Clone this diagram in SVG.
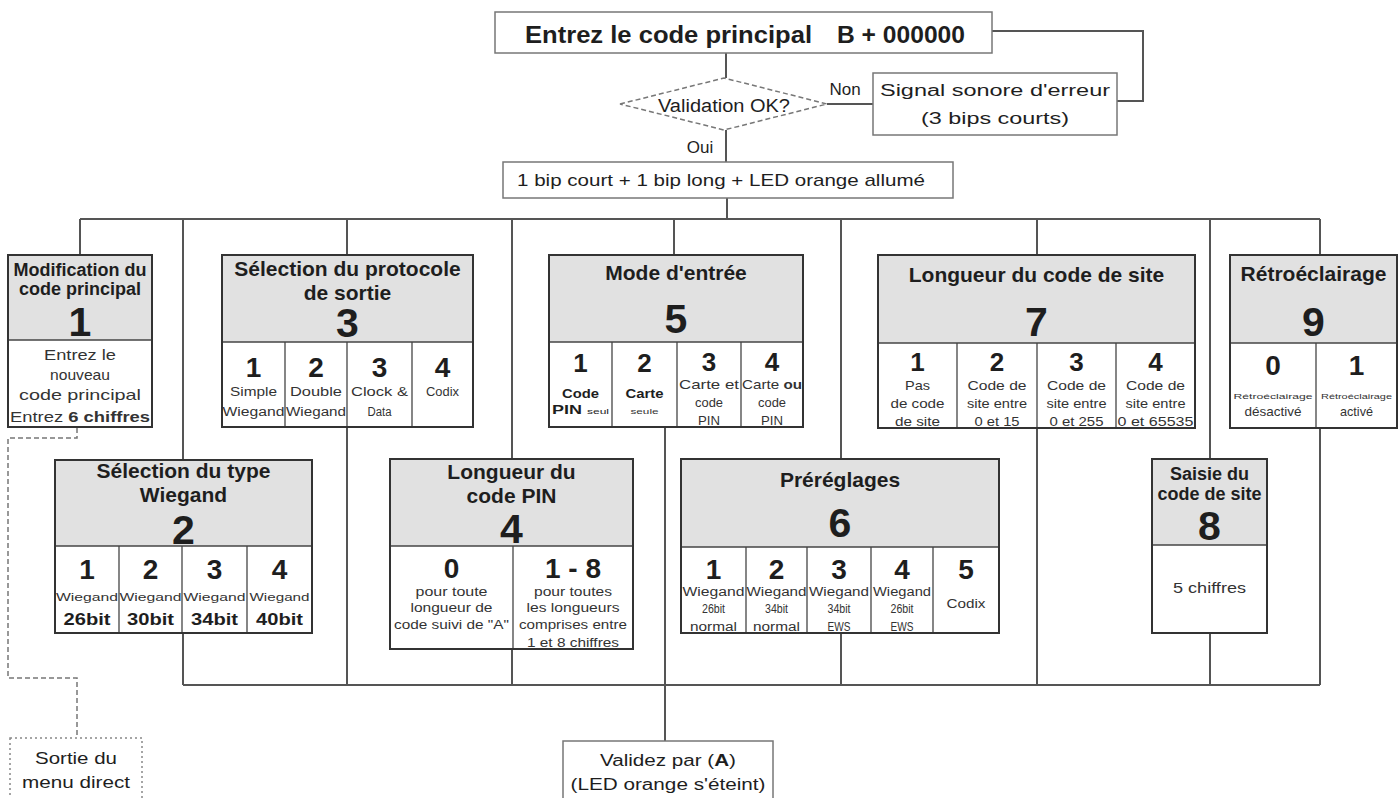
<svg xmlns="http://www.w3.org/2000/svg" width="1400" height="798" viewBox="0 0 1400 798">
<style>
text{font-family:"Liberation Sans",Arial,Helvetica,sans-serif;fill:#1e1e1e;text-anchor:middle}
.b{font-weight:bold}
.st{text-anchor:start}
.h21{font-size:21px;font-weight:bold}
.h18{font-size:18px;font-weight:bold}
.big{font-size:41px;font-weight:bold}
.dg{font-size:28px;font-weight:bold}
.dg2{font-size:26px;font-weight:bold}
.sm{fill:#333}
.body{fill:#fff}
.hdr{fill:#e1e1e1}
.frame{fill:none;stroke:#333;stroke-width:2}
.sep{stroke:#444;stroke-width:1.3}
.ln{fill:none;stroke:#555;stroke-width:2}
.thin{fill:#fff;stroke:#777;stroke-width:1.5}
.dash{fill:none;stroke:#777;stroke-width:1.5;stroke-dasharray:5 3}
.dot{fill:#fff;stroke:#888;stroke-width:1.5;stroke-dasharray:2 3}
</style>

<g id="connectors">
  <polyline class="ln" points="992,31 1143,31 1143,101 1117,101"/>
  <line class="ln" x1="726" y1="53" x2="726" y2="78"/>
  <line class="ln" x1="827" y1="104" x2="873" y2="104"/>
  <line class="ln" x1="726" y1="130" x2="726" y2="162"/>
  <line class="ln" x1="727" y1="198" x2="727" y2="219"/>
  <line class="ln" x1="80" y1="219" x2="1320" y2="219"/>
  <line class="ln" x1="80" y1="219" x2="80" y2="255"/>
  <line class="ln" x1="183" y1="219" x2="183" y2="685"/>
  <line class="ln" x1="347" y1="219" x2="347" y2="685"/>
  <line class="ln" x1="512" y1="219" x2="512" y2="685"/>
  <line class="ln" x1="674" y1="219" x2="674" y2="255"/>
  <line class="ln" x1="841" y1="219" x2="841" y2="685"/>
  <line class="ln" x1="1037" y1="219" x2="1037" y2="685"/>
  <line class="ln" x1="1210" y1="219" x2="1210" y2="685"/>
  <line class="ln" x1="1320" y1="219" x2="1320" y2="685"/>
  <line class="ln" x1="183" y1="685" x2="1320" y2="685"/>
  <line class="ln" x1="665" y1="427" x2="665" y2="741"/>
  <path class="dash" d="M77,428 V438 H8 V678 H77 V738"/>
</g>

<g id="start">
  <rect class="thin" x="495" y="12" width="497" height="41"/>
  <text class="b st" x="525" y="43" font-size="24" textLength="287" lengthAdjust="spacingAndGlyphs">Entrez le code principal</text>
  <text class="b st" x="837" y="43" font-size="24" textLength="128" lengthAdjust="spacingAndGlyphs">B + 000000</text>
</g>

<g id="decision">
  <polygon points="620,104 724,78 827,104 724,130" fill="#fff" stroke="#777" stroke-width="1.5" stroke-dasharray="5 3"/>
  <text x="724" y="112" font-size="18" textLength="132" lengthAdjust="spacingAndGlyphs">Validation OK?</text>
  <text x="845" y="95" font-size="17">Non</text>
  <text x="700" y="153" font-size="17">Oui</text>
</g>

<g id="error">
  <rect class="thin" x="873" y="73" width="244" height="62"/>
  <text x="995" y="96" font-size="16" textLength="230" lengthAdjust="spacingAndGlyphs">Signal sonore d'erreur</text>
  <text x="995" y="124" font-size="16" textLength="148" lengthAdjust="spacingAndGlyphs">(3 bips courts)</text>
</g>

<g id="ok">
  <rect class="thin" x="503" y="162" width="450" height="36"/>
  <text x="721" y="186" font-size="17" textLength="408" lengthAdjust="spacingAndGlyphs">1 bip court + 1 bip long + LED orange allumé</text>
</g>

<g id="node1">
  <rect class="body" x="8" y="255" width="144" height="172"/>
  <rect class="hdr" x="8" y="255" width="144" height="85"/>
  <line class="sep" x1="8" y1="340" x2="152" y2="340"/>
  <text class="h18" x="80" y="276" font-size="17.5">Modification du</text>
  <text class="h18" x="80" y="295" font-size="17.5">code principal</text>
  <text class="big" x="80" y="336">1</text>
  <text class="sm" x="80" y="360" font-size="15" textLength="72" lengthAdjust="spacingAndGlyphs">Entrez le</text>
  <text class="sm" x="80" y="380" font-size="15" textLength="60" lengthAdjust="spacingAndGlyphs">nouveau</text>
  <text class="sm" x="80" y="400" font-size="15" textLength="122" lengthAdjust="spacingAndGlyphs">code principal</text>
  <text class="sm" x="80" y="422" font-size="15" textLength="140" lengthAdjust="spacingAndGlyphs">Entrez <tspan class="b">6 chiffres</tspan></text>
  <rect class="frame" x="8" y="255" width="144" height="172"/>
</g>

<g id="node3">
  <rect class="body" x="222" y="255" width="251" height="172"/>
  <rect class="hdr" x="222" y="255" width="251" height="87"/>
  <line class="sep" x1="222" y1="342" x2="473" y2="342"/>
  <line class="sep" x1="285" y1="342" x2="285" y2="427"/>
  <line class="sep" x1="347" y1="342" x2="347" y2="427"/>
  <line class="sep" x1="412" y1="342" x2="412" y2="427"/>
  <text class="h21" x="347.5" y="276">Sélection du protocole</text>
  <text class="h21" x="347.5" y="300">de sortie</text>
  <text class="big" x="347.5" y="337">3</text>
  <text class="dg" x="253.5" y="377">1</text>
  <text class="dg" x="316" y="377">2</text>
  <text class="dg" x="379.5" y="377">3</text>
  <text class="dg" x="442.5" y="377">4</text>
  <text class="sm" x="253.5" y="396" font-size="12" textLength="47" lengthAdjust="spacingAndGlyphs">Simple</text>
  <text class="sm" x="253.5" y="416" font-size="12" textLength="62" lengthAdjust="spacingAndGlyphs">Wiegand</text>
  <text class="sm" x="316" y="396" font-size="12" textLength="52" lengthAdjust="spacingAndGlyphs">Double</text>
  <text class="sm" x="316" y="416" font-size="12" textLength="60" lengthAdjust="spacingAndGlyphs">Wiegand</text>
  <text class="sm" x="379.5" y="396" font-size="12" textLength="57" lengthAdjust="spacingAndGlyphs">Clock &amp;</text>
  <text class="sm" x="379.5" y="416" font-size="12" textLength="24" lengthAdjust="spacingAndGlyphs">Data</text>
  <text class="sm" x="442.5" y="396" font-size="12" textLength="33" lengthAdjust="spacingAndGlyphs">Codix</text>
  <rect class="frame" x="222" y="255" width="251" height="172"/>
</g>

<g id="node5">
  <rect class="body" x="549" y="255" width="254" height="172"/>
  <rect class="hdr" x="549" y="255" width="254" height="87"/>
  <line class="sep" x1="549" y1="342" x2="803" y2="342"/>
  <line class="sep" x1="612" y1="342" x2="612" y2="427"/>
  <line class="sep" x1="677" y1="342" x2="677" y2="427"/>
  <line class="sep" x1="741" y1="342" x2="741" y2="427"/>
  <text class="h21" x="676" y="280">Mode d'entrée</text>
  <text class="big" x="676" y="333">5</text>
  <text class="dg2" x="580.5" y="372">1</text>
  <text class="dg2" x="644.5" y="372">2</text>
  <text class="dg2" x="709" y="371">3</text>
  <text class="dg2" x="772" y="371">4</text>
  <text class="b" x="580.5" y="398" font-size="12" textLength="37" lengthAdjust="spacingAndGlyphs">Code</text>
  <text x="580.5" y="414" font-size="12" textLength="57" lengthAdjust="spacingAndGlyphs"><tspan class="b">PIN</tspan> <tspan font-size="8">seul</tspan></text>
  <text class="b" x="644.5" y="398" font-size="12" textLength="38" lengthAdjust="spacingAndGlyphs">Carte</text>
  <text class="sm" x="644.5" y="414" font-size="8" textLength="28" lengthAdjust="spacingAndGlyphs">seule</text>
  <text class="sm" x="709" y="389" font-size="13" textLength="60" lengthAdjust="spacingAndGlyphs">Carte et</text>
  <text class="sm" x="709" y="407" font-size="13" textLength="28" lengthAdjust="spacingAndGlyphs">code</text>
  <text class="sm" x="709" y="425" font-size="13" textLength="22" lengthAdjust="spacingAndGlyphs">PIN</text>
  <text class="sm" x="772" y="389" font-size="13" textLength="60" lengthAdjust="spacingAndGlyphs">Carte <tspan class="b">ou</tspan></text>
  <text class="sm" x="772" y="407" font-size="13" textLength="28" lengthAdjust="spacingAndGlyphs">code</text>
  <text class="sm" x="772" y="425" font-size="13" textLength="22" lengthAdjust="spacingAndGlyphs">PIN</text>
  <rect class="frame" x="549" y="255" width="254" height="172"/>
</g>

<g id="node7">
  <rect class="body" x="878" y="255" width="317" height="173"/>
  <rect class="hdr" x="878" y="255" width="317" height="88"/>
  <line class="sep" x1="878" y1="343" x2="1195" y2="343"/>
  <line class="sep" x1="957" y1="343" x2="957" y2="428"/>
  <line class="sep" x1="1037" y1="343" x2="1037" y2="428"/>
  <line class="sep" x1="1116" y1="343" x2="1116" y2="428"/>
  <text class="h21" x="1036.5" y="282">Longueur du code de site</text>
  <text class="big" x="1036.5" y="336">7</text>
  <text class="dg2" x="917.5" y="371">1</text>
  <text class="dg2" x="997" y="371">2</text>
  <text class="dg2" x="1076.5" y="371">3</text>
  <text class="dg2" x="1155.5" y="371">4</text>
  <text class="sm" x="917.5" y="390" font-size="13" textLength="25" lengthAdjust="spacingAndGlyphs">Pas</text>
  <text class="sm" x="917.5" y="408" font-size="13" textLength="54" lengthAdjust="spacingAndGlyphs">de code</text>
  <text class="sm" x="917.5" y="426" font-size="13" textLength="45" lengthAdjust="spacingAndGlyphs">de site</text>
  <text class="sm" x="997" y="390" font-size="13" textLength="59" lengthAdjust="spacingAndGlyphs">Code de</text>
  <text class="sm" x="997" y="408" font-size="13" textLength="60" lengthAdjust="spacingAndGlyphs">site entre</text>
  <text class="sm" x="997" y="426" font-size="13" textLength="45" lengthAdjust="spacingAndGlyphs">0 et 15</text>
  <text class="sm" x="1076.5" y="390" font-size="13" textLength="59" lengthAdjust="spacingAndGlyphs">Code de</text>
  <text class="sm" x="1076.5" y="408" font-size="13" textLength="60" lengthAdjust="spacingAndGlyphs">site entre</text>
  <text class="sm" x="1076.5" y="426" font-size="13" textLength="54" lengthAdjust="spacingAndGlyphs">0 et 255</text>
  <text class="sm" x="1155.5" y="390" font-size="13" textLength="59" lengthAdjust="spacingAndGlyphs">Code de</text>
  <text class="sm" x="1155.5" y="408" font-size="13" textLength="60" lengthAdjust="spacingAndGlyphs">site entre</text>
  <text class="sm" x="1155.5" y="426" font-size="13" textLength="76" lengthAdjust="spacingAndGlyphs">0 et 65535</text>
  <rect class="frame" x="878" y="255" width="317" height="173"/>
</g>

<g id="node9">
  <rect class="body" x="1230" y="255" width="167" height="173"/>
  <rect class="hdr" x="1230" y="255" width="167" height="88"/>
  <line class="sep" x1="1230" y1="343" x2="1397" y2="343"/>
  <line class="sep" x1="1316" y1="343" x2="1316" y2="428"/>
  <text class="h21" x="1313.5" y="281">Rétroéclairage</text>
  <text class="big" x="1313.5" y="336">9</text>
  <text class="dg" x="1273" y="375">0</text>
  <text class="dg" x="1356.5" y="375">1</text>
  <text class="sm" x="1273" y="399" font-size="7" textLength="79" lengthAdjust="spacingAndGlyphs">Rétroéclairage</text>
  <text class="sm" x="1356.5" y="399" font-size="7" textLength="71" lengthAdjust="spacingAndGlyphs">Rétroéclairage</text>
  <text class="sm" x="1273" y="416" font-size="13" textLength="57" lengthAdjust="spacingAndGlyphs">désactivé</text>
  <text class="sm" x="1356.5" y="416" font-size="13" textLength="33" lengthAdjust="spacingAndGlyphs">activé</text>
  <rect class="frame" x="1230" y="255" width="167" height="173"/>
</g>

<g id="node2">
  <rect class="body" x="55" y="460" width="257" height="173"/>
  <rect class="hdr" x="55" y="460" width="257" height="86"/>
  <line class="sep" x1="55" y1="546" x2="312" y2="546"/>
  <line class="sep" x1="119" y1="546" x2="119" y2="633"/>
  <line class="sep" x1="182" y1="546" x2="182" y2="633"/>
  <line class="sep" x1="247" y1="546" x2="247" y2="633"/>
  <text class="h21" x="183.5" y="478">Sélection du type</text>
  <text class="h21" x="183.5" y="502">Wiegand</text>
  <text class="big" x="183.5" y="544">2</text>
  <text class="dg" x="87" y="579">1</text>
  <text class="dg" x="150.5" y="579">2</text>
  <text class="dg" x="214.5" y="579">3</text>
  <text class="dg" x="279.5" y="579">4</text>
  <text class="sm" x="87" y="601" font-size="11" textLength="62" lengthAdjust="spacingAndGlyphs">Wiegand</text>
  <text class="sm" x="150.5" y="601" font-size="11" textLength="62" lengthAdjust="spacingAndGlyphs">Wiegand</text>
  <text class="sm" x="214.5" y="601" font-size="11" textLength="62" lengthAdjust="spacingAndGlyphs">Wiegand</text>
  <text class="sm" x="279.5" y="601" font-size="11" textLength="60" lengthAdjust="spacingAndGlyphs">Wiegand</text>
  <text class="b" x="87" y="625" font-size="17" textLength="47" lengthAdjust="spacingAndGlyphs">26bit</text>
  <text class="b" x="150.5" y="625" font-size="17" textLength="47" lengthAdjust="spacingAndGlyphs">30bit</text>
  <text class="b" x="214.5" y="625" font-size="17" textLength="47" lengthAdjust="spacingAndGlyphs">34bit</text>
  <text class="b" x="279.5" y="625" font-size="17" textLength="47" lengthAdjust="spacingAndGlyphs">40bit</text>
  <rect class="frame" x="55" y="460" width="257" height="173"/>
</g>

<g id="node4">
  <rect class="body" x="390" y="459" width="243" height="190"/>
  <rect class="hdr" x="390" y="459" width="243" height="87"/>
  <line class="sep" x1="390" y1="546" x2="633" y2="546"/>
  <line class="sep" x1="513" y1="546" x2="513" y2="649"/>
  <text class="h21" x="511.5" y="479">Longueur du</text>
  <text class="h21" x="511.5" y="503">code PIN</text>
  <text class="big" x="511.5" y="543">4</text>
  <text class="dg" x="451.5" y="578">0</text>
  <text class="dg" x="573" y="578">1 - 8</text>
  <text class="sm" x="451.5" y="596" font-size="12" textLength="72" lengthAdjust="spacingAndGlyphs">pour toute</text>
  <text class="sm" x="451.5" y="612" font-size="12" textLength="82" lengthAdjust="spacingAndGlyphs">longueur de</text>
  <text class="sm" x="451.5" y="629" font-size="12" textLength="115" lengthAdjust="spacingAndGlyphs">code suivi de "A"</text>
  <text class="sm" x="573" y="596" font-size="12" textLength="78" lengthAdjust="spacingAndGlyphs">pour toutes</text>
  <text class="sm" x="573" y="612" font-size="12" textLength="93" lengthAdjust="spacingAndGlyphs">les longueurs</text>
  <text class="sm" x="573" y="629" font-size="12" textLength="108" lengthAdjust="spacingAndGlyphs">comprises entre</text>
  <text class="sm" x="573" y="647" font-size="12" textLength="92" lengthAdjust="spacingAndGlyphs">1 et 8 chiffres</text>
  <rect class="frame" x="390" y="459" width="243" height="190"/>
</g>

<g id="node6">
  <rect class="body" x="681" y="459" width="318" height="174"/>
  <rect class="hdr" x="681" y="459" width="318" height="88"/>
  <line class="sep" x1="681" y1="547" x2="999" y2="547"/>
  <line class="sep" x1="746" y1="547" x2="746" y2="633"/>
  <line class="sep" x1="807" y1="547" x2="807" y2="633"/>
  <line class="sep" x1="871" y1="547" x2="871" y2="633"/>
  <line class="sep" x1="933" y1="547" x2="933" y2="633"/>
  <text class="h21" x="840" y="487">Préréglages</text>
  <text class="big" x="840" y="537">6</text>
  <text class="dg" x="713.5" y="579">1</text>
  <text class="dg" x="776.5" y="579">2</text>
  <text class="dg" x="839" y="579">3</text>
  <text class="dg" x="902" y="579">4</text>
  <text class="dg" x="966" y="579">5</text>
  <text class="sm" x="713.5" y="596" font-size="12" textLength="62" lengthAdjust="spacingAndGlyphs">Wiegand</text>
  <text class="sm" x="713.5" y="613" font-size="12" textLength="23" lengthAdjust="spacingAndGlyphs">26bit</text>
  <text class="sm" x="713.5" y="631" font-size="12" textLength="47" lengthAdjust="spacingAndGlyphs">normal</text>
  <text class="sm" x="776.5" y="596" font-size="12" textLength="60" lengthAdjust="spacingAndGlyphs">Wiegand</text>
  <text class="sm" x="776.5" y="613" font-size="12" textLength="23" lengthAdjust="spacingAndGlyphs">34bit</text>
  <text class="sm" x="776.5" y="631" font-size="12" textLength="47" lengthAdjust="spacingAndGlyphs">normal</text>
  <text class="sm" x="839" y="596" font-size="12" textLength="60" lengthAdjust="spacingAndGlyphs">Wiegand</text>
  <text class="sm" x="839" y="613" font-size="12" textLength="23" lengthAdjust="spacingAndGlyphs">34bit</text>
  <text class="sm" x="839" y="631" font-size="12" textLength="23" lengthAdjust="spacingAndGlyphs">EWS</text>
  <text class="sm" x="902" y="596" font-size="12" textLength="58" lengthAdjust="spacingAndGlyphs">Wiegand</text>
  <text class="sm" x="902" y="613" font-size="12" textLength="23" lengthAdjust="spacingAndGlyphs">26bit</text>
  <text class="sm" x="902" y="631" font-size="12" textLength="23" lengthAdjust="spacingAndGlyphs">EWS</text>
  <text class="sm" x="966" y="608" font-size="12" textLength="39" lengthAdjust="spacingAndGlyphs">Codix</text>
  <rect class="frame" x="681" y="459" width="318" height="174"/>
</g>

<g id="node8">
  <rect class="body" x="1152" y="459" width="115" height="174"/>
  <rect class="hdr" x="1152" y="459" width="115" height="86"/>
  <line class="sep" x1="1152" y1="545" x2="1267" y2="545"/>
  <text class="h18" x="1209.5" y="480">Saisie du</text>
  <text class="h18" x="1209.5" y="500">code de site</text>
  <text class="big" x="1209.5" y="540">8</text>
  <text class="sm" x="1209.5" y="593" font-size="15" textLength="73" lengthAdjust="spacingAndGlyphs">5 chiffres</text>
  <rect class="frame" x="1152" y="459" width="115" height="174"/>
</g>

<g id="exit">
  <rect class="dot" x="10" y="738" width="132" height="64"/>
  <text x="76" y="764" font-size="17" textLength="82" lengthAdjust="spacingAndGlyphs">Sortie du</text>
  <text x="76" y="788" font-size="17" textLength="108" lengthAdjust="spacingAndGlyphs">menu direct</text>
</g>

<g id="validate">
  <rect class="thin" x="563" y="741" width="210" height="64"/>
  <text x="668" y="766" font-size="16" textLength="136" lengthAdjust="spacingAndGlyphs">Validez par (<tspan class="b">A</tspan>)</text>
  <text x="668" y="790" font-size="16" textLength="195" lengthAdjust="spacingAndGlyphs">(LED orange s'éteint)</text>
</g>
</svg>
